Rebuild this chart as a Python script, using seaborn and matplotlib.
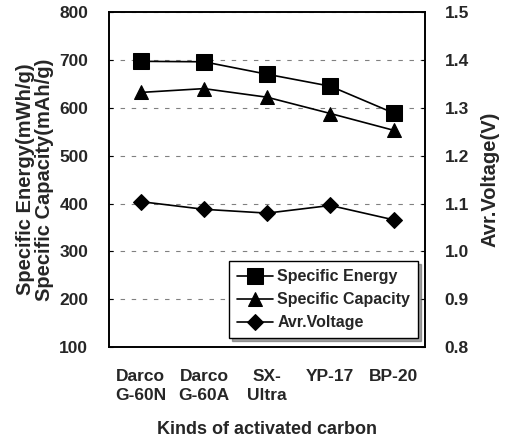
import numpy as np
import pandas as pd
import matplotlib
matplotlib.use("Agg")
import matplotlib.pyplot as plt
import seaborn as sbn

carbons = ["Darco\nG-60N", "Darco\nG-60A", "SX-\nUltra", "YP-17", "BP-20"]
specific_energy = [697, 696, 670, 645, 589]
specific_capacity = [632, 640, 622, 588, 553]
avr_voltage = [1.104, 1.088, 1.080, 1.096, 1.066]

sbn.set_style("white")
plt.rcParams['font.family'] = ['Liberation Sans', 'DejaVu Sans']
plt.rcParams['font.weight'] = 'bold'
plt.rcParams['font.size'] = 12.5

df = pd.DataFrame({"x": np.arange(len(carbons)),
                   "energy": specific_energy,
                   "capacity": specific_capacity,
                   "voltage": avr_voltage})

fig = plt.figure(figsize=(5.05, 4.44), dpi=100)
ax = fig.add_axes([0.216, 0.218, 0.626, 0.755])
ax2 = ax.twinx()

sbn.lineplot(data=df, x="x", y="energy", ax=ax, color="black", lw=1.2,
             marker="s", markersize=11, markeredgecolor="black", label="Specific Energy", legend=False)
sbn.lineplot(data=df, x="x", y="capacity", ax=ax, color="black", lw=1.2,
             marker="^", markersize=10, markeredgecolor="black", label="Specific Capacity", legend=False)
sbn.lineplot(data=df, x="x", y="voltage", ax=ax2, color="black", lw=1.2,
             marker="D", markersize=8.5, markeredgecolor="black", label="Avr.Voltage", legend=False)

ax.set_xlim(-0.5, len(carbons) - 0.5)
ax.set_ylim(100, 800)
ax2.set_ylim(0.8, 1.5)
ax.set_yticks(range(100, 801, 100))
ax2.set_yticks(np.arange(0.8, 1.51, 0.1))
ax2.set_yticklabels([f"{v:.1f}" for v in np.arange(0.8, 1.51, 0.1)], fontweight='bold')
ax.set_yticklabels([str(v) for v in range(100, 801, 100)], fontweight='bold')

ax.set_xticks(range(len(carbons)))
ax.set_xticklabels(carbons, fontweight='bold', linespacing=1.3)
ax.set_xticks(np.arange(0.5, len(carbons) - 0.5, 1), minor=True)
ax.tick_params(axis='x', which='major', length=0, pad=16)
ax.tick_params(axis='x', which='minor', direction='in', length=5, color='black')
ax.tick_params(axis='y', direction='in', length=3, pad=15, color='black')
ax2.tick_params(axis='y', direction='in', length=3, pad=14, color='black')

ax.grid(axis='y', color='gray', linestyle=(0, (4, 6)), lw=0.8)
for sp in ax.spines.values():
    sp.set_color('black')
    sp.set_linewidth(1.2)
for sp in ax2.spines.values():
    sp.set_color('black')
    sp.set_linewidth(1.2)

ax.set_xlabel("Kinds of activated carbon", fontweight='bold', fontsize=13, labelpad=13)
ax.set_ylabel("Specific Energy(mWh/g)\nSpecific Capacity(mAh/g)", fontweight='bold',
              fontsize=14.5, linespacing=0.95, labelpad=4)
ax2.set_ylabel("Avr.Voltage(V)", fontweight='bold', fontsize=14.5, labelpad=8)

h1, l1 = ax.get_legend_handles_labels()
h2, l2 = ax2.get_legend_handles_labels()
leg = ax2.legend(h1 + h2, l1 + l2, loc='lower right', bbox_to_anchor=(0.978, 0.027),
                 borderaxespad=0, frameon=True, fancybox=False, shadow=True, edgecolor='black',
                 handlelength=2.2, handletextpad=0.3, borderpad=0.5, labelspacing=0.5,
                 fontsize=11.5)
for t in leg.get_texts():
    t.set_fontweight('bold')
leg.get_frame().set_linewidth(1.0)
leg.get_frame().set_alpha(1)

fig.savefig("out.png", dpi=100)
